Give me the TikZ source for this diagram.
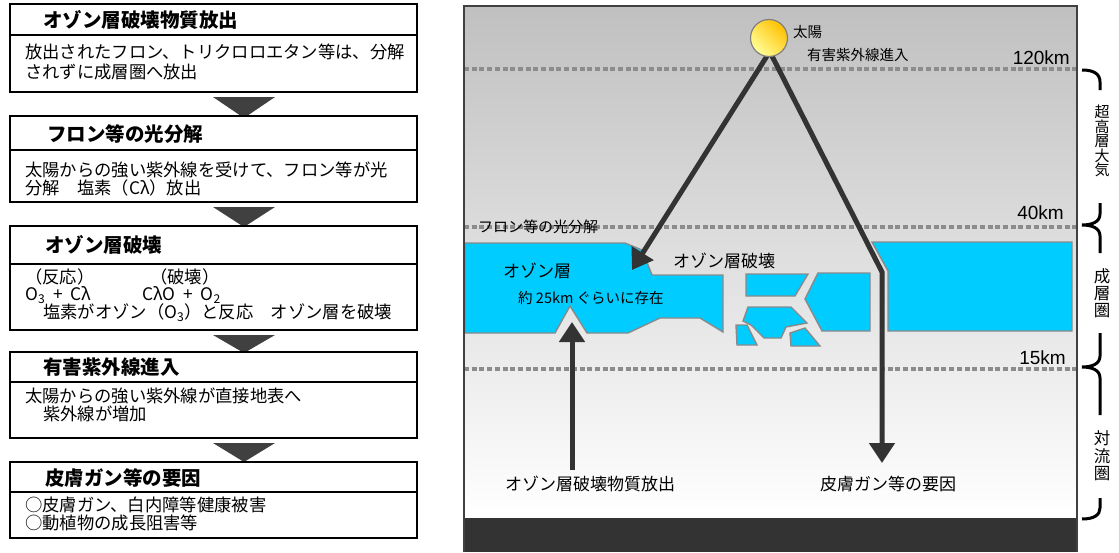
\documentclass[tikz,border=0pt]{standalone}
\usepackage{fontspec}
\setmainfont{Liberation Sans}
\newfontfamily\jp{Noto Sans CJK JP}
\usetikzlibrary{arrows.meta}

\definecolor{ozonecyan}{HTML}{00CCFF}
\definecolor{ozoneedge}{HTML}{8A8A8A}
\definecolor{skytop}{HTML}{C0C0C0}
\definecolor{ground}{HTML}{333333}
\definecolor{raycol}{HTML}{333333}
\definecolor{dotcol}{HTML}{8C8C8C}
\definecolor{sungold}{HTML}{FFC000}
\definecolor{sunpale}{HTML}{FFFF99}
\definecolor{flowtricol}{HTML}{404040}

\begin{document}
\begin{tikzpicture}[x=1pt,y=-1pt,
  boxline/.style={draw=black,line width=2.6pt},
  ttl/.style={anchor=west,inner sep=0pt,font=\jp\bfseries\fontsize{19.5}{22}\selectfont},
  bodytxt/.style={anchor=west,inner sep=0pt,font=\jp\fontsize{17.3}{20}\selectfont},
  flowtri/.style={fill=flowtricol,draw=none},
  ozone/.style={fill=ozonecyan,draw=ozoneedge,line width=1.4pt,line join=miter},
  ray/.style={draw=raycol,line width=5pt,-{Triangle[width=25pt,length=20pt]}},
  dotline/.style={draw=dotcol,line width=4pt,dash pattern=on 5pt off 2.7pt},
  kmlabel/.style={anchor=east,inner sep=0pt,font=\fontsize{19}{21}\selectfont},
  skytxt/.style={inner sep=0pt,font=\jp\fontsize{17}{20}\selectfont},
  smalltxt/.style={inner sep=0pt,font=\jp\fontsize{14.5}{17}\selectfont},
  brace/.style={draw=black,line width=3pt,line cap=butt},
  zonetxt/.style={inner sep=0pt,align=center}]

\useasboundingbox (0,0) rectangle (1119,552);

% ---------------- flow of steps on the left ----------------
% step 1
\draw[boxline,fill=white] (10,4) rectangle (417,92);
\draw[boxline] (10,35) -- (417,35);
\node[ttl] (t1) at (43,20) {オゾン層破壊物質放出};
\node[bodytxt] (b1a) at (25,52) {放出されたフロン、トリクロロエタン等は、分解};
\node[bodytxt] (b1b) at (25,72) {されずに成層圏へ放出};
\fill[flowtri] (213,97) -- (275,97) -- (244,118) -- cycle;

% step 2
\draw[boxline,fill=white] (10,116) rectangle (417,202);
\draw[boxline] (10,150) -- (417,150);
\node[ttl] (t2) at (47,134) {フロン等の光分解};
\node[bodytxt] (b2a) at (25,170) {太陽からの強い紫外線を受けて、フロン等が光};
\node[bodytxt] (b2b) at (25,188) {分解　塩素（Cλ）放出};
\fill[flowtri] (213,207) -- (275,207) -- (244,227) -- cycle;

% step 3
\draw[boxline,fill=white] (10,226) rectangle (417,330);
\draw[boxline] (10,264) -- (417,264);
\node[ttl] (t3) at (45,245) {オゾン層破壊};
\node[bodytxt] (b3a) at (25,277) {（反応）};
\node[bodytxt] (b3b) at (150,277) {（破壊）};
\node[bodytxt] (b3c) at (25,295) {O\textsubscript{3}\ \ +\ \ Cλ};
\node[bodytxt] (b3d) at (142,295) {CλO\ \ +\ \ O\textsubscript{2}};
\node[bodytxt] (b3e) at (43,313) {塩素がオゾン（O\textsubscript{3}）と反応　オゾン層を破壊};
\fill[flowtri] (213,335) -- (275,335) -- (244,353) -- cycle;

% step 4
\draw[boxline,fill=white] (10,352) rectangle (417,438);
\draw[boxline] (10,382) -- (417,382);
\node[ttl] (t4) at (43,367) {有害紫外線進入};
\node[bodytxt] (b4a) at (25,396) {太陽からの強い紫外線が直接地表へ};
\node[bodytxt] (b4b) at (43,414) {紫外線が増加};
\fill[flowtri] (213,443) -- (275,443) -- (244,462) -- cycle;

% step 5
\draw[boxline,fill=white] (10,462) rectangle (417,538);
\draw[boxline] (10,492) -- (417,492);
\node[ttl] (t5) at (45,478) {皮膚ガン等の要因};
\node[bodytxt] (b5a) at (25,505) {○皮膚ガン、白内障等健康被害};
\node[bodytxt] (b5b) at (25,523) {○動植物の成長阻害等};

% ---------------- atmosphere cross-section ----------------
\shade[top color=skytop,bottom color=white] (464,6) rectangle (1077,518);
\fill[ground] (464,518) rectangle (1077,552);

% altitude levels
\draw[dotline] (464,69) -- (1077,69);
\draw[dotline] (464,227) -- (1077,227);
\draw[dotline] (464,369) -- (1077,369);
\node[kmlabel] (km120) at (1070,58) {120km};
\node[kmlabel] (km40) at (1064,213) {40km};
\node[kmlabel] (km15) at (1066,358) {15km};

% ozone layer, intact on the left and right
\draw[ozone] (465,243) -- (625,243) -- (642,250) -- (652,275) -- (723,275)
  -- (723,332) -- (700,318) -- (660,318) -- (628,333) -- (587,333)
  -- (570,306) -- (555,333) -- (465,333) -- cycle;
\draw[ozone] (872,242) -- (1072,242) -- (1072,331) -- (888,331) -- (888,271) -- cycle;
% broken fragments
\draw[ozone] (746,274) -- (808,274) -- (795,296) -- (746,296) -- cycle;
\draw[ozone] (818,273) -- (870,273) -- (870,331) -- (822,331) -- (805,299) -- cycle;
\draw[ozone] (748,307) -- (791,307) -- (807,323) -- (786,327) -- (781,338)
  -- (764,338) -- (751,325) -- (743,321) -- cycle;
\draw[ozone] (736,325) -- (747,325) -- (757,345) -- (737,345) -- cycle;
\draw[ozone] (790,333) -- (805,328) -- (820,346) -- (791,346) -- cycle;

\node[skytxt,anchor=west] (ozlayer) at (503,271) {オゾン層};
\node[inner sep=0pt,anchor=west,font=\jp\fontsize{14.5}{17}\selectfont] (ozheight) at (518,298) {約 25km ぐらいに存在};
\node[skytxt,anchor=west] (ozbreak) at (673,261) {オゾン層破壊};
\node[inner sep=0pt,anchor=west,font=\jp\fontsize{15}{17}\selectfont] (photo) at (478,227) {フロン等の光分解};

% rays and the released substances
\coordinate (sunfootL) at (767,56);
\coordinate (sunfootR) at (772,56);
\coordinate (holetip) at (632,270);
\coordinate (bend) at (882,272);
\coordinate (skintip) at (882,463);
\coordinate (releasebase) at (572,470);
\coordinate (releasetip) at (572,322);
\draw[ray] (sunfootL) -- (holetip);
\draw[ray] (sunfootR) -- (bend) -- (skintip);
\draw[ray] (releasebase) -- (releasetip);

% the sun
\node[circle,minimum size=37pt,inner sep=0pt,draw=gray,line width=1.2pt,
  top color=sungold,bottom color=sunpale,shading angle=-45] (sun) at (769,38) {};
\node[smalltxt,anchor=west] (sunname) at (793,32) {太陽};
\node[smalltxt,anchor=west] (uvin) at (807,55) {有害紫外線進入};

\node[skytxt] (releaselbl) at (590,484) {オゾン層破壊物質放出};
\node[skytxt] (skinlbl) at (888,484) {皮膚ガン等の要因};

% frame
\draw[draw=black!75,line width=1.5pt] (464,552) -- (464,6) -- (1077,6) -- (1077,552);

% ---------------- zones on the right ----------------
\draw[brace] (1082,70) .. controls (1094,70) and (1100,74) .. (1100,82) -- (1100,90);
\draw[brace] (1100,203) -- (1100,214) .. controls (1100,222) and (1092,225) .. (1082,225)
  .. controls (1092,225) and (1100,228) .. (1100,236) -- (1100,253);
\draw[brace] (1100,333) -- (1100,356) .. controls (1100,364) and (1092,367) .. (1082,367)
  .. controls (1092,367) and (1100,370) .. (1100,378) -- (1100,415);
\draw[brace] (1100,498) -- (1100,508) .. controls (1100,515) and (1094,519) .. (1082,519);

\node[zonetxt,font=\jp\fontsize{15}{14.6}\selectfont] (upper) at (1102,141) {超\\高\\層\\大\\気};
\node[zonetxt,font=\jp\fontsize{16.5}{17}\selectfont] (strato) at (1102,293) {成\\層\\圏};
\node[zonetxt,font=\jp\fontsize{16.5}{17.4}\selectfont] (tropo) at (1102,456) {対\\流\\圏};

\end{tikzpicture}
\end{document}
